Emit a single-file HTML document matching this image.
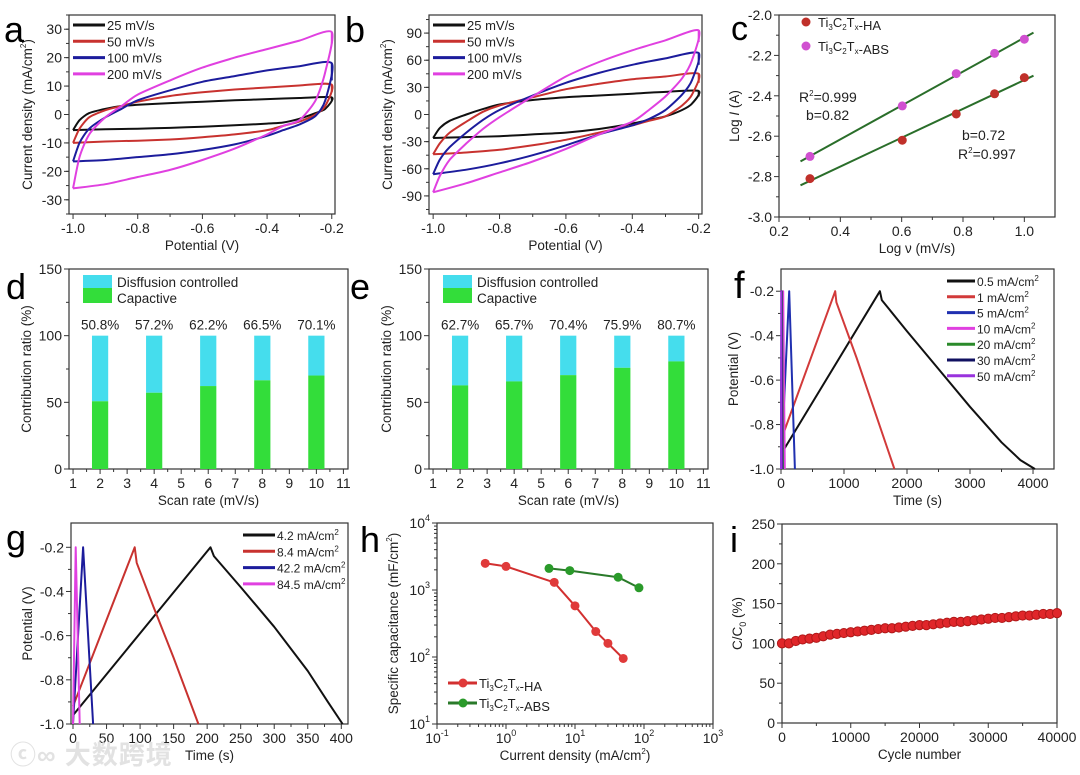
<!DOCTYPE html>
<html><head><meta charset="utf-8"><style>
html,body{margin:0;padding:0;background:#fff;width:1080px;height:775px;overflow:hidden}
svg{position:absolute;left:0;top:0;font-family:"Liberation Sans",Arial,sans-serif}
.wm{position:absolute;left:10px;top:735px;font:bold 26px "Liberation Sans","Noto Sans CJK SC",sans-serif;color:#e2e2e2;letter-spacing:1px}
</style></head><body>
<svg id="fig" width="1080" height="775" xmlns="http://www.w3.org/2000/svg"></svg>
<div class="wm">ⓒ∞ 大数跨境</div>
<script>
// ---------- DATA ----------
const cvPotA = [-1,-0.98,-0.95,-0.9,-0.85,-0.8,-0.7,-0.6,-0.5,-0.4,-0.3,-0.2];
const cvBackPotA = [-0.2,-0.22,-0.25,-0.3,-0.35,-0.4,-0.5,-0.6,-0.7,-0.8,-0.9,-1];
const cvLabels = ['25 mV/s','50 mV/s','100 mV/s','200 mV/s'];
const cvColors = ['#111','#c8322f','#1c1c9c','#e040e0'];
const aUp25 = [-5.5,-2,0.5,2,3,3.4,4,4.5,5,5.4,5.8,6];
const aDn25 = [5,2,0.5,-1.5,-2.8,-3.2,-3.8,-4.3,-4.7,-5,-5.2,-5.5];
const aUp50 = [-10,-5,-1,1.5,3,4.5,6.5,7.8,8.8,9.5,10.2,10.5];
const aDn50 = [8,3,0,-2.5,-4,-5.5,-7,-8,-8.8,-9.2,-9.5,-10];
const aUp100 = [-16.5,-10,-5,-1,2,5,8.5,11.5,13.5,15.5,17,18];
const aDn100 = [12,5,-0.5,-3.5,-5.5,-7.5,-10.5,-12.5,-14,-15,-16,-16.5];
const aUp200 = [-26,-15,-7,-1,3,7,12,16.5,20,23,26,29];
const aDn200 = [25,15,5,-2,-4,-7,-12,-16,-19.5,-22,-24.5,-26];
const bUp25 = [-26,-15,-7,0,6,11,16,19,21,23,25,26];
const bDn25 = [20,12,5,-2,-6,-10,-16,-20,-22,-24,-25,-26];
const bUp50 = [-44,-32,-20,-8,3,10,19,28,34,39,42,45];
const bDn50 = [35,22,10,-2,-7,-12,-20,-28,-34,-39,-42,-44];
const bUp100 = [-66,-50,-36,-20,-6,5,21,35,46,55,62,68];
const bDn100 = [55,38,22,5,-5,-12,-22,-34,-45,-54,-61,-66];
const bUp200 = [-86,-68,-50,-32,-16,-3,20,42,58,71,82,93];
const bDn200 = [80,60,40,20,5,-8,-22,-38,-52,-64,-76,-86];

const logV = [0.301,0.602,0.778,0.903,1.0];
const logI_HA = [-2.81,-2.62,-2.49,-2.39,-2.31];
const logI_ABS = [-2.70,-2.45,-2.29,-2.19,-2.12];

const scanRates = [2,4,6,8,10];
const capD = [50.8,57.2,62.2,66.5,70.1];
const capE = [62.7,65.7,70.4,75.9,80.7];

const fLabels = ['0.5 mA/cm²','1 mA/cm²','5 mA/cm²','10 mA/cm²','20 mA/cm²','30 mA/cm²','50 mA/cm²'];
const fColors = ['#111','#d23a3a','#2030b0','#e040e0','#2a8a2a','#101060','#9933dd'];
const fT05 = [50,1570,1600,2000,2500,3000,3500,3800,4030];
const fV05 = [-0.91,-0.2,-0.24,-0.38,-0.55,-0.72,-0.88,-0.96,-1.0];
const fT1 = [0,860,880,1200,1500,1800];
const fV1 = [-0.87,-0.2,-0.25,-0.5,-0.75,-1.0];
const fT5 = [0,130,220]; const fV5 = [-1,-0.2,-1];
const fT10 = [0,35,60]; const fV10 = [-1,-0.2,-1];
const fT20 = [0,15,30]; const fV20 = [-1,-0.2,-1];
const fT30 = [0,10,20]; const fV30 = [-1,-0.2,-1];
const fT50 = [0,5,10]; const fV50 = [-1,-0.2,-1];

const gLabels = ['4.2 mA/cm²','8.4 mA/cm²','42.2 mA/cm²','84.5 mA/cm²'];
const gColors = ['#111','#c8322f','#1c1c9c','#e040e0'];
const gT42 = [0,205,210,250,300,350,380,402];
const gV42 = [-0.96,-0.2,-0.24,-0.38,-0.56,-0.76,-0.9,-1.0];
const gT84 = [0,92,95,120,150,187];
const gV84 = [-0.92,-0.2,-0.27,-0.47,-0.7,-1.0];
const gT422 = [0,15,30]; const gV422 = [-1,-0.2,-1];
const gT845 = [0,4,10]; const gV845 = [-1,-0.2,-1];

const hJ_HA = [0.5,1,5,10,20,30,50];
const hC_HA = [2500,2250,1300,580,240,160,95];
const hJ_ABS = [4.2,8.4,42.2,84.5];
const hC_ABS = [2100,1950,1550,1080];

const cycles = [0,1000,2000,3000,4000,5000,6000,7000,8000,9000,10000,11000,12000,13000,14000,15000,16000,17000,18000,19000,20000,21000,22000,23000,24000,25000,26000,27000,28000,29000,30000,31000,32000,33000,34000,35000,36000,37000,38000,39000,40000];
const retention = [100,100,103,105,106,107,109,111,112,113,114,115,116,117,118,119,119,120,121,122,123,123,124,125,126,127,127,128,129,130,131,132,132,133,134,135,135,136,137,137,138];

// ---------- HELPERS ----------
const NS='http://www.w3.org/2000/svg';
const svg=document.getElementById('fig');
function el(tag,attrs,parent,name,inter){
  const e=document.createElementNS(NS,tag);
  for(const k in attrs)e.setAttribute(k,attrs[k]);
  
  
  (parent||svg).appendChild(e);return e;
}
function txt(x,y,s,parent,name,o){
  o=o||{};
  const t=el('text',{x:x,y:y,'font-size':o.size||13,'text-anchor':o.anchor||'start',fill:o.fill||'#222'},parent,name,false);
  if(o.rot)t.setAttribute('transform','rotate(-90 '+x+' '+y+')');
  t.innerHTML=s;return t;
}
function panel(p){
  const g=el('g',{},svg,'panel-'+p.id,false);
  const lx=v=>p.xlog?Math.log10(v):v, ly=v=>p.ylog?Math.log10(v):v;
  p.sx=v=>p.l+(lx(v)-p.x0)/(p.x1-p.x0)*(p.r-p.l);
  p.sy=v=>p.b-(ly(v)-p.y0)/(p.y1-p.y0)*(p.b-p.t);
  p.g=g;
  el('rect',{x:p.l,y:p.t,width:p.r-p.l,height:p.b-p.t,fill:'none',stroke:'#333','stroke-width':1.2},g,'plot-frame-'+p.id,false);
  (p.xminor||[]).forEach(v=>{const x=p.sx(v);el('line',{x1:x,x2:x,y1:p.b,y2:p.b+3,stroke:'#333'},g,'x-minor-tick',false);});
  (p.yminor||[]).forEach(v=>{const y=p.sy(v);el('line',{x1:p.l-3,x2:p.l,y1:y,y2:y,stroke:'#333'},g,'y-minor-tick',false);});
  p.xticks.forEach((v,i)=>{const x=p.sx(v);el('line',{x1:x,x2:x,y1:p.b,y2:p.b+5,stroke:'#333'},g,'x-tick',false);
    txt(x,p.b+19,p.xlabels[i],g,'x-tick-label',{anchor:'middle',size:p.fs||14});});
  p.yticks.forEach((v,i)=>{const y=p.sy(v);el('line',{x1:p.l-5,x2:p.l,y1:y,y2:y,stroke:'#333'},g,'y-tick',false);
    txt(p.l-7,y+5,p.ylabels[i],g,'y-tick-label',{anchor:'end',size:p.fs||14});});
  txt((p.l+p.r)/2,p.b+36,p.xtitle,g,'x-axis-title',{anchor:'middle',size:13.5});
  txt(p.ytx,(p.t+p.b)/2,p.ytitle,g,'y-axis-title',{anchor:'middle',size:13.5,rot:true});
  txt(p.lx,p.ly,p.letter,g,'panel-letter-'+p.id,{size:p.lsize||36,fill:'#000'});
  return p;
}
function path(p,xs,ys,color,w,name){
  const d=xs.map((x,i)=>(i?'L':'M')+p.sx(x).toFixed(1)+','+p.sy(ys[i]).toFixed(1)).join('');
  return el('path',{d:d,fill:'none',stroke:color,'stroke-width':w||2,'stroke-linejoin':'round'},p.g,name,false);
}
function smooth(p,xs,ys,color,w,name){
  const P=xs.map((x,i)=>[p.sx(x),p.sy(ys[i])]);
  let d='M'+P[0][0].toFixed(1)+','+P[0][1].toFixed(1);
  for(let i=0;i<P.length-1;i++){
    const p0=P[Math.max(i-1,0)],p1=P[i],p2=P[i+1],p3=P[Math.min(i+2,P.length-1)];
    const t=1/8;
    const c1=[p1[0]+(p2[0]-p0[0])*t,p1[1]+(p2[1]-p0[1])*t];
    const c2=[p2[0]-(p3[0]-p1[0])*t,p2[1]-(p3[1]-p1[1])*t];
    d+='C'+c1.map(v=>v.toFixed(1)).join(',')+' '+c2.map(v=>v.toFixed(1)).join(',')+' '+p2.map(v=>v.toFixed(1)).join(',');
  }
  return el('path',{d:d,fill:'none',stroke:color,'stroke-width':w||2,'stroke-linejoin':'round'},p.g,name,false);
}
function legLine(p,x1,x2,y,color,label,name,fs){
  el('line',{x1:x1,x2:x2,y1:y,y2:y,stroke:color,'stroke-width':3},p.g,name+'-swatch',false);
  txt(x2+2,y+5,label,p.g,name,{size:fs||13});
}
function range(a,b,s){const r=[];for(let v=a;v<=b+1e-9;v+=s)r.push(+v.toFixed(6));return r;}
const SUB=s=>'<tspan font-size="8" dy="3">'+s+'</tspan><tspan dy="-3">';
const ti='Ti'+SUB('3')+'C'+SUB('2')+'T'+SUB('x')+'</tspan></tspan></tspan>';
const cm2='mA/cm<tspan font-size="8" dy="-6">2</tspan><tspan dy="6">)</tspan>';

// ---------- PANEL A & B ----------
function cvPanel(id,l,r,yMax,yt,ymin,ups,dns,letterX,ytx){
  const p=panel({id:id,l:l,t:15,r:r,b:214,x0:-1.0125,x1:-0.19,y0:-yMax,y1:yMax,
    xticks:[-1,-0.8,-0.6,-0.4,-0.2],xlabels:['-1.0','-0.8','-0.6','-0.4','-0.2'],xminor:[-0.9,-0.7,-0.5,-0.3],
    yticks:yt,ylabels:yt.map(String),yminor:ymin,xtitle:'Potential (V)',ytitle:'Current density ('+cm2,ytx:ytx,letter:id,lx:letterX,ly:42});
  ups.forEach((u,i)=>{smooth(p,cvPotA.concat(cvBackPotA.slice(1)),u.concat(dns[i].slice(1)),cvColors[i],2,'cv-curve-'+cvLabels[i].split(' ')[0]);
    path(p,[-0.2,-0.2],[u[u.length-1],dns[i][0]],cvColors[i],2,'cv-vertex-'+cvLabels[i].split(' ')[0]);});
  cvLabels.forEach((s,i)=>legLine(p,l+4,l+36,25+16.3*i,cvColors[i],s,'legend-entry-'+s.split(' ')[0]));
  return p;
}
cvPanel('a',69,335,35,[-30,-20,-10,0,10,20,30],range(-35,35,5),[aUp25,aUp50,aUp100,aUp200],[aDn25,aDn50,aDn100,aDn200],4,32);
cvPanel('b',429,702,110,[-90,-60,-30,0,30,60,90],range(-105,105,15),[bUp25,bUp50,bUp100,bUp200],[bDn25,bDn50,bDn100,bDn200],345,392);

// ---------- PANEL C ----------
(function(){
  const p=panel({id:'c',l:779,t:15,r:1055,b:217,x0:0.2,x1:1.1,y0:-3,y1:-2,
    xticks:[0.2,0.4,0.6,0.8,1.0],xlabels:['0.2','0.4','0.6','0.8','1.0'],xminor:[0.3,0.5,0.7,0.9],
    yticks:range(-3,-2,0.2),ylabels:['-3.0','-2.8','-2.6','-2.4','-2.2','-2.0'],yminor:range(-2.9,-2.1,0.2),
    xtitle:'Log ν (mV/s)',ytitle:'Log <tspan font-style="italic">I</tspan> (A)',ytx:739,letter:'c',lx:731,ly:40,lsize:34});
  function fit(ys,name){
    const n=logV.length,mx=logV.reduce((a,b)=>a+b)/n,my=ys.reduce((a,b)=>a+b)/n;
    let sxy=0,sxx=0;logV.forEach((x,i)=>{sxy+=(x-mx)*(ys[i]-my);sxx+=(x-mx)*(x-mx);});
    const k=sxy/sxx,b0=my-k*mx;
    path(p,[0.27,1.03],[b0+k*0.27,b0+k*1.03],'#2a6e2a',2,name);
  }
  fit(logI_HA,'fit-line-ha');fit(logI_ABS,'fit-line-abs');
  logV.forEach((x,i)=>{
    el('circle',{cx:p.sx(x),cy:p.sy(logI_HA[i]),r:4.5,fill:'#c0302a'},p.g,'point-ha',false);
    el('circle',{cx:p.sx(x),cy:p.sy(logI_ABS[i]),r:4.5,fill:'#d050d0'},p.g,'point-abs',false);
  });
  el('circle',{cx:806,cy:22,r:4.5,fill:'#c0302a'},p.g,'legend-marker-ha',false);
  txt(818,27,ti+'-HA',p.g,'legend-entry-ha');
  el('circle',{cx:806,cy:46,r:4.5,fill:'#d050d0'},p.g,'legend-marker-abs',false);
  txt(818,51,ti+'-ABS',p.g,'legend-entry-abs');
  txt(799,102,'R<tspan font-size="8" dy="-6">2</tspan><tspan dy="6">=0.999</tspan>',p.g,'r2-abs',{size:14});
  txt(806,120,'b=0.82',p.g,'b-abs',{size:14});
  txt(962,140,'b=0.72',p.g,'b-ha',{size:14});
  txt(958,159,'R<tspan font-size="8" dy="-6">2</tspan><tspan dy="6">=0.997</tspan>',p.g,'r2-ha',{size:14});
})();

// ---------- PANEL D & E ----------
function barPanel(id,l,r,caps,lx){
  const p=panel({id:id,l:l,t:269,r:r,b:469,x0:0.85,x1:11.17,y0:0,y1:150,
    xticks:range(1,11,1),xlabels:range(1,11,1).map(String),xminor:range(1.5,10.5,1),
    yticks:[0,50,100,150],ylabels:['0','50','100','150'],yminor:[25,75,125],
    xtitle:'Scan rate (mV/s)',ytitle:'Contribution ratio (%)',ytx:l-38,letter:id,lx:lx,ly:299});
  const bw=p.sx(0.6)-p.sx(0);
  scanRates.forEach((x,i)=>{
    const xl=p.sx(x)-bw/2;
    el('rect',{x:xl,y:p.sy(100),width:bw,height:p.sy(caps[i])-p.sy(100),fill:'#45dded'},p.g,'bar-diffusion-'+x,false);
    el('rect',{x:xl,y:p.sy(caps[i]),width:bw,height:p.sy(0)-p.sy(caps[i]),fill:'#33dd3a'},p.g,'bar-capacitive-'+x,false);
    txt(p.sx(x),p.sy(100)-6,caps[i].toFixed(1)+'%',p.g,'bar-value-label',{anchor:'middle',size:13.5});
  });
  el('rect',{x:l+14,y:275,width:29,height:13,fill:'#45dded'},p.g,'legend-swatch-diffusion',false);
  el('rect',{x:l+14,y:288,width:29,height:15,fill:'#33dd3a'},p.g,'legend-swatch-capacitive',false);
  txt(l+48,287,'Disffusion controlled',p.g,'legend-entry-diffusion',{size:13.5});
  txt(l+48,303,'Capactive',p.g,'legend-entry-capacitive',{size:13.5});
}
barPanel('d',69,348,capD,6);
barPanel('e',429,708,capE,350);

// ---------- PANEL F ----------
(function(){
  const p=panel({id:'f',l:781,t:269,r:1054,b:469,x0:0,x1:4333,y0:-1.0,y1:-0.1,
    xticks:[0,1000,2000,3000,4000],xlabels:['0','1000','2000','3000','4000'],xminor:[500,1500,2500,3500],
    yticks:[-1,-0.8,-0.6,-0.4,-0.2],ylabels:['-1.0','-0.8','-0.6','-0.4','-0.2'],yminor:[-0.9,-0.7,-0.5,-0.3],
    xtitle:'Time (s)',ytitle:'Potential (V)',ytx:738,letter:'f',lx:734,ly:298,lsize:38});
  const ts=[fT05,fT1,fT5,fT10,fT20,fT30,fT50],vs=[fV05,fV1,fV5,fV10,fV20,fV30,fV50];
  ts.forEach((t,i)=>path(p,t,vs[i],fColors[i],2,'gcd-curve-'+fLabels[i].split(' ')[0]));
  fLabels.forEach((s,i)=>legLine(p,947,975,281+15.8*i,fColors[i],s.replace('²','<tspan font-size="8" dy="-5">2</tspan>'),'legend-entry-'+s.split(' ')[0],12));
})();

// ---------- PANEL G ----------
(function(){
  const p=panel({id:'g',l:71,t:523,r:348,b:724,x0:-3,x1:410,y0:-1.0,y1:-0.09,
    xticks:range(0,400,50),xlabels:range(0,400,50).map(String),xminor:range(25,375,50),
    yticks:[-1,-0.8,-0.6,-0.4,-0.2],ylabels:['-1.0','-0.8','-0.6','-0.4','-0.2'],yminor:[-0.9,-0.7,-0.5,-0.3],
    xtitle:'Time (s)',ytitle:'Potential (V)',ytx:32,letter:'g',lx:6,ly:550});
  const ts=[gT42,gT84,gT422,gT845],vs=[gV42,gV84,gV422,gV845];
  ts.forEach((t,i)=>path(p,t,vs[i],gColors[i],2,'gcd-curve-'+gLabels[i].split(' ')[0]));
  gLabels.forEach((s,i)=>legLine(p,243,275,535+16.3*i,gColors[i],s.replace('²','<tspan font-size="8" dy="-5">2</tspan>'),'legend-entry-'+s.split(' ')[0],12));
})();

// ---------- PANEL H ----------
(function(){
  const minorX=[],minorY=[];
  [0.1,1,10,100].forEach(d=>{for(let k=2;k<10;k++)minorX.push(d*k);});
  [10,100,1000].forEach(d=>{for(let k=2;k<10;k++)minorY.push(d*k);});
  const sup=(b,e)=>b+'<tspan font-size="9" dy="-7">'+e+'</tspan>';
  const p=panel({id:'h',l:437,t:523,r:713,b:724,x0:-1,x1:3,y0:1,y1:4,xlog:true,ylog:true,
    xticks:[0.1,1,10,100,1000],xlabels:[sup('10','-1'),sup('10','0'),sup('10','1'),sup('10','2'),sup('10','3')],xminor:minorX,
    yticks:[10,100,1000,10000],ylabels:[sup('10','1'),sup('10','2'),sup('10','3'),sup('10','4')],yminor:minorY,
    xtitle:'Current density ('+cm2,ytitle:'Specific capacitance (mF/cm<tspan font-size="8" dy="-6">2</tspan><tspan dy="6">)</tspan>',ytx:398,letter:'h',lx:360,ly:552});
  path(p,hJ_HA,hC_HA,'#d23030',2,'line-ha');
  path(p,hJ_ABS,hC_ABS,'#2a7a2a',2,'line-abs');
  hJ_HA.forEach((x,i)=>el('circle',{cx:p.sx(x),cy:p.sy(hC_HA[i]),r:4.5,fill:'#e03a3a'},p.g,'point-ha',false));
  hJ_ABS.forEach((x,i)=>el('circle',{cx:p.sx(x),cy:p.sy(hC_ABS[i]),r:4.5,fill:'#2a9a2a'},p.g,'point-abs',false));
  legLine(p,448,477,683,'#d23030',ti+'-HA','legend-entry-ha',13);
  el('circle',{cx:463,cy:683,r:4.5,fill:'#e03a3a'},p.g,'legend-marker-ha',false);
  legLine(p,448,477,703,'#2a7a2a',ti+'-ABS','legend-entry-abs',13);
  el('circle',{cx:463,cy:703,r:4.5,fill:'#2a9a2a'},p.g,'legend-marker-abs',false);
})();

// ---------- PANEL I ----------
(function(){
  const p=panel({id:'i',l:782,t:524,r:1057,b:723,x0:0,x1:40000,y0:0,y1:250,
    xticks:range(0,40000,10000),xlabels:['0','10000','20000','30000','40000'],xminor:[5000,15000,25000,35000],
    yticks:range(0,250,50),ylabels:['0','50','100','150','200','250'],yminor:range(25,225,50),
    xtitle:'Cycle number',ytitle:'C/C<tspan font-size="9" dy="4">0</tspan><tspan dy="-4"> (%)</tspan>',ytx:742,letter:'i',lx:730,ly:552});
  cycles.forEach((c,i)=>el('circle',{cx:p.sx(c),cy:p.sy(retention[i]),r:4.6,fill:'#e0262a',stroke:'#b01818','stroke-width':1},p.g,'retention-point',false));
})();
</script>
</body></html>
